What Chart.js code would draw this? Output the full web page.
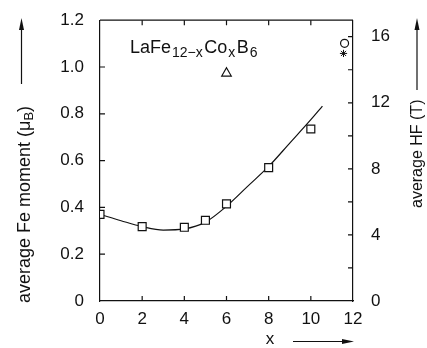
<!DOCTYPE html>
<html><head><meta charset="utf-8">
<script src="https://cdn.jsdelivr.net/npm/chart.js@4"></script>
<style>html,body{margin:0;padding:0;background:#fff}#wrap{width:427px;height:348px;position:relative}</style>
</head><body><div id="wrap"><canvas id="c"></canvas></div>
<script>
// ---- data ----
const squareX = [0, 2, 4, 5, 6, 8, 10];
const squareY = [0.37, 0.318, 0.315, 0.345, 0.415, 0.57, 0.735];
const curveX = [0, 1, 2, 3, 4, 5, 6, 7, 8, 9, 10, 10.55];
const curveY = [0.37, 0.343, 0.318, 0.303, 0.308, 0.337, 0.405, 0.49, 0.575, 0.675, 0.775, 0.833];
const triangleX = [6];
const triangleY = [0.973];
const circleX = [11.6];
const circleY = [1.101];
const starX = [11.55];
const starY = [1.058];
const xTicks = [0, 2, 4, 6, 8, 10, 12];
const leftTicks = [0, 0.2, 0.4, 0.6, 0.8, 1.0, 1.2];
const rightTicks = [0, 2, 4, 6, 8, 10, 12, 14, 16];
const rightLabels = [0, 4, 8, 12, 16];
const leftTitle = 'average Fe moment (\u03bc';
const leftTitleSub = 'B';
const rightTitle = 'average HF (T)';
const xTitle = 'x';

const pts = (xs, ys) => xs.map((x, i) => ({x: x, y: ys[i]}));
const INK = '#111';
const FONT = '"Liberation Sans", Arial, sans-serif';

const decor = {
  id: 'decor',
  afterDraw(chart) {
    const ctx = chart.ctx;
    const a = chart.chartArea;
    const sx = chart.scales.x, sy = chart.scales.y, sr = chart.scales.y1;
    ctx.save();
    ctx.strokeStyle = INK; ctx.fillStyle = INK; ctx.lineWidth = 1.2;
    // top frame
    ctx.beginPath(); ctx.moveTo(a.left, a.top); ctx.lineTo(a.right, a.top); ctx.stroke();
    const L = 5;
    ctx.beginPath();
    xTicks.forEach(v => {
      if (v <= sx.min || v >= sx.max) return;
      const p = sx.getPixelForValue(v);
      ctx.moveTo(p, a.bottom); ctx.lineTo(p, a.bottom - L);
      ctx.moveTo(p, a.top); ctx.lineTo(p, a.top + L);
    });
    leftTicks.forEach(v => {
      if (v <= sy.min || v >= sy.max) return;
      const p = sy.getPixelForValue(v);
      ctx.moveTo(a.left, p); ctx.lineTo(a.left + L, p);
    });
    rightTicks.forEach(v => {
      if (v <= sr.min || v >= sr.max) return;
      const p = sr.getPixelForValue(v);
      ctx.moveTo(a.right, p); ctx.lineTo(a.right - L, p);
    });
    ctx.stroke();

    // formula label
    let fx = sx.getPixelForValue(1.42), fy = sy.getPixelForValue(1.06);
    const parts = [['LaFe', 18, 0], ['12\u2212x', 14, 4], ['Co', 18, 0], ['x', 14, 4], ['B', 18, 0], ['6', 14, 4]];
    ctx.textBaseline = 'alphabetic'; ctx.textAlign = 'left';
    parts.forEach(([t, s, d]) => {
      ctx.font = s + 'px ' + FONT;
      ctx.fillText(t, fx, fy + d);
      fx += ctx.measureText(t).width + (s === 14 ? 1.5 : 1);
    });

    // left title (rotated) with arrow
    ctx.save();
    ctx.translate(25, 303);
    ctx.rotate(-Math.PI / 2);
    ctx.font = '18px ' + FONT; ctx.textBaseline = 'middle'; ctx.textAlign = 'left';
    ctx.fillText(leftTitle, 0, 0);
    let w = ctx.measureText(leftTitle).width;
    ctx.font = '13px ' + FONT;
    ctx.fillText(leftTitleSub, w, 4);
    w += ctx.measureText(leftTitleSub).width;
    ctx.font = '18px ' + FONT;
    ctx.fillText(')', w, 0);
    ctx.restore();
    arrowUp(ctx, 21.5, 84, 18);

    // right title
    ctx.save();
    ctx.translate(418, 208);
    ctx.rotate(-Math.PI / 2);
    ctx.font = '16px ' + FONT; ctx.textBaseline = 'middle'; ctx.textAlign = 'left';
    ctx.fillText(rightTitle, 0, 0);
    ctx.restore();
    arrowUp(ctx, 417, 90, 18);

    // x title
    ctx.font = '17px ' + FONT; ctx.textBaseline = 'middle'; ctx.textAlign = 'center';
    ctx.fillText(xTitle, 270, 339);
    ctx.beginPath(); ctx.moveTo(293, 341.5); ctx.lineTo(345, 341.5); ctx.stroke();
    ctx.beginPath(); ctx.moveTo(354, 341.5); ctx.lineTo(342, 339); ctx.lineTo(342, 344); ctx.closePath(); ctx.fill();
    ctx.restore();

    function arrowUp(c, x, y0, y1) {
      c.beginPath(); c.moveTo(x, y0); c.lineTo(x, y1 + 8); c.stroke();
      c.beginPath(); c.moveTo(x, y1); c.lineTo(x - 2.5, y1 + 12); c.lineTo(x + 2.5, y1 + 12); c.closePath(); c.fill();
    }
  }
};

const tickFont = {family: FONT, size: 17};

new Chart(document.getElementById('c'), {
  type: 'scatter',
  data: {
    datasets: [
      {data: pts(squareX, squareY), pointStyle: 'rect', pointRadius: 5.6, backgroundColor: '#fff', borderColor: INK, borderWidth: 1.2},
      {data: pts(triangleX, triangleY), pointStyle: 'triangle', pointRadius: 5.5, backgroundColor: '#fff', borderColor: INK, borderWidth: 1.2},
      {data: pts(circleX, circleY), pointStyle: 'circle', pointRadius: 4, backgroundColor: '#fff', borderColor: INK, borderWidth: 1.2},
      {data: pts(starX, starY), pointStyle: 'star', pointRadius: 3.6, backgroundColor: INK, borderColor: INK, borderWidth: 1},
      {data: pts(curveX, curveY), showLine: true, pointRadius: 0, borderColor: INK, borderWidth: 1.2, tension: 0.4, cubicInterpolationMode: 'monotone', fill: false}
    ]
  },
  options: {
    responsive: true, maintainAspectRatio: false, animation: false,
    layout: {padding: {top: 20, left: 0, right: 0, bottom: 0}},
    plugins: {legend: {display: false}, tooltip: {enabled: false}},
    scales: {
      x: {
        type: 'linear', position: 'bottom', min: 0, max: 12,
        afterBuildTicks: s => { s.ticks = xTicks.map(v => ({value: v})); },
        afterFit: s => { s.height = 47; },
        grid: {display: false}, border: {display: true, color: INK, width: 1.2},
        ticks: {color: INK, font: tickFont, padding: 0, maxRotation: 0, autoSkip: false, callback: v => String(v)}
      },
      y: {
        type: 'linear', position: 'left', min: 0, max: 1.2,
        afterBuildTicks: s => { s.ticks = leftTicks.map(v => ({value: v})); },
        afterFit: s => { s.width = 100; },
        grid: {display: false}, border: {display: true, color: INK, width: 1.2},
        ticks: {color: INK, font: tickFont, padding: 8, autoSkip: false, callback: v => v === 0 ? '0' : Number(v).toFixed(1)}
      },
      y1: {
        type: 'linear', position: 'right', min: 0, max: 17,
        afterBuildTicks: s => { s.ticks = rightTicks.map(v => ({value: v})); },
        afterFit: s => { s.width = 74; },
        grid: {display: false}, border: {display: true, color: INK, width: 1.2},
        ticks: {color: INK, font: tickFont, padding: 10, autoSkip: false, callback: v => rightLabels.includes(v) ? String(v) : ''}
      }
    }
  },
  plugins: [decor]
});
</script>
</body></html>
